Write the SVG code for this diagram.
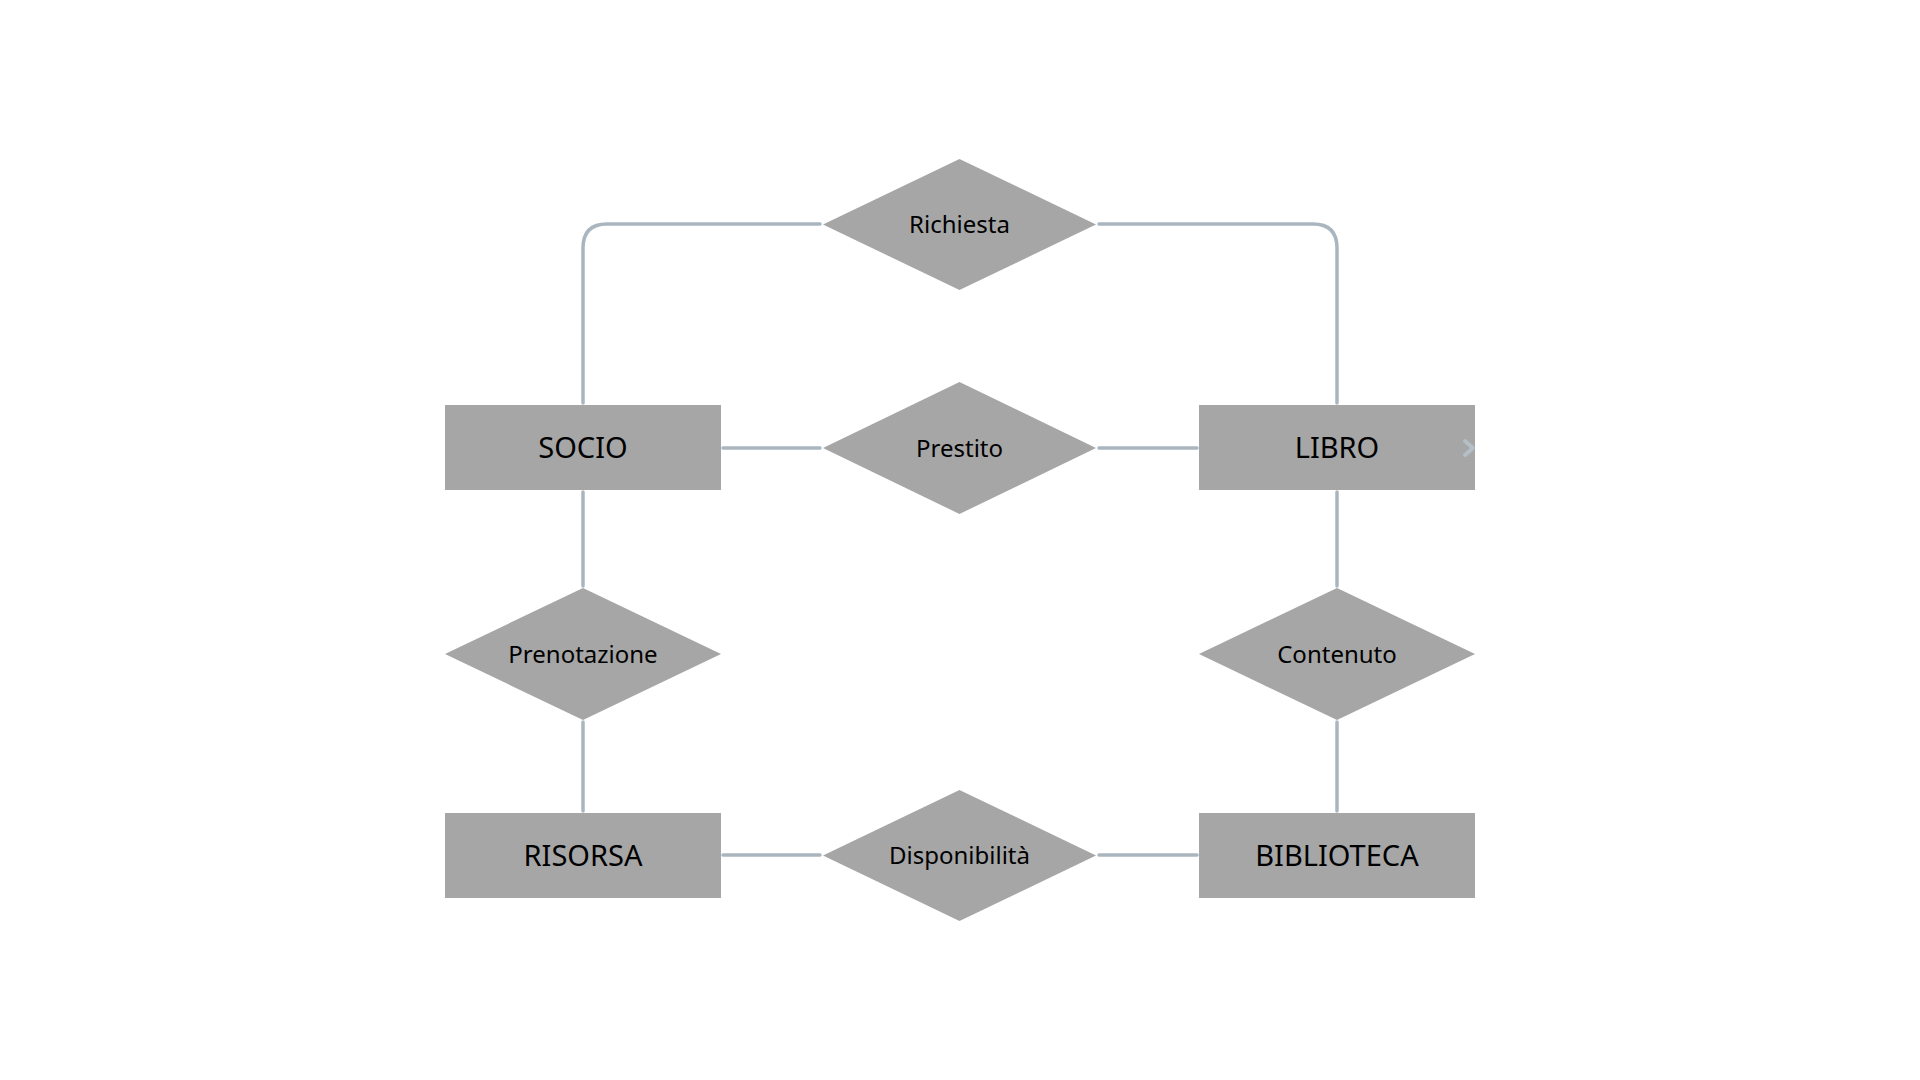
<svg xmlns="http://www.w3.org/2000/svg" width="1920" height="1080" viewBox="0 0 1920 1080">
<style>
.ent{fill:#a6a6a6;}
.rel{fill:#a6a6a6;}
.lbl{font-family:"Noto Sans","Open Sans","DejaVu Sans",sans-serif;fill:#000;text-anchor:middle;}
.el{font-size:29px;}
.rl{font-size:24px;}
.conn{fill:none;stroke:#aab6bf;stroke-width:3.5;stroke-linecap:round;stroke-linejoin:round;}
</style>
<rect width="1920" height="1080" fill="#ffffff"/>
<g id="connectors">
<path class="conn" d="M583,403 V248 Q583,224 607,224 H820"/>
<path class="conn" d="M1099,224 H1313 Q1337,224 1337,248 V403"/>
<path class="conn" d="M723,448 H820"/>
<path class="conn" d="M1099,448 H1197"/>
<path class="conn" d="M583,492 V586"/>
<path class="conn" d="M583,722 V811"/>
<path class="conn" d="M1337,492 V586"/>
<path class="conn" d="M1337,722 V811"/>
<path class="conn" d="M723,855 H820"/>
<path class="conn" d="M1099,855 H1197"/>
</g>
<g id="SOCIO">
<rect class="ent" x="445" y="405" width="276" height="85"/>
<text class="lbl el" x="583" y="458">SOCIO</text>
</g>
<g id="LIBRO">
<rect class="ent" x="1199" y="405" width="276" height="85"/>
<text class="lbl el" x="1337" y="458">LIBRO</text>
<polyline points="1465,441 1473,448 1465,455" fill="none" stroke="#b4c0c8" stroke-width="4" stroke-linecap="round" stroke-linejoin="round"/>
</g>
<g id="RISORSA">
<rect class="ent" x="445" y="813" width="276" height="85"/>
<text class="lbl el" x="583" y="866">RISORSA</text>
</g>
<g id="BIBLIOTECA">
<rect class="ent" x="1199" y="813" width="276" height="85"/>
<text class="lbl el" x="1337" y="866">BIBLIOTECA</text>
</g>
<g id="Richiesta">
<polygon class="rel" points="959.5,159 1096,224.5 959.5,290 823,224.5"/>
<text class="lbl rl" x="959.5" y="233">Richiesta</text>
</g>
<g id="Prestito">
<polygon class="rel" points="959.5,382 1096,448 959.5,514 823,448"/>
<text class="lbl rl" x="959.5" y="456.5">Prestito</text>
</g>
<g id="Prenotazione">
<polygon class="rel" points="583,588 721,654 583,720 445,654"/>
<text class="lbl rl" x="583" y="662.5">Prenotazione</text>
</g>
<g id="Contenuto">
<polygon class="rel" points="1337,588 1475,654 1337,720 1199,654"/>
<text class="lbl rl" x="1337" y="662.5">Contenuto</text>
</g>
<g id="Disponibilita">
<polygon class="rel" points="959.5,790 1096,855.5 959.5,921 823,855.5"/>
<text class="lbl rl" x="959.5" y="864">Disponibilità</text>
</g>
</svg>
